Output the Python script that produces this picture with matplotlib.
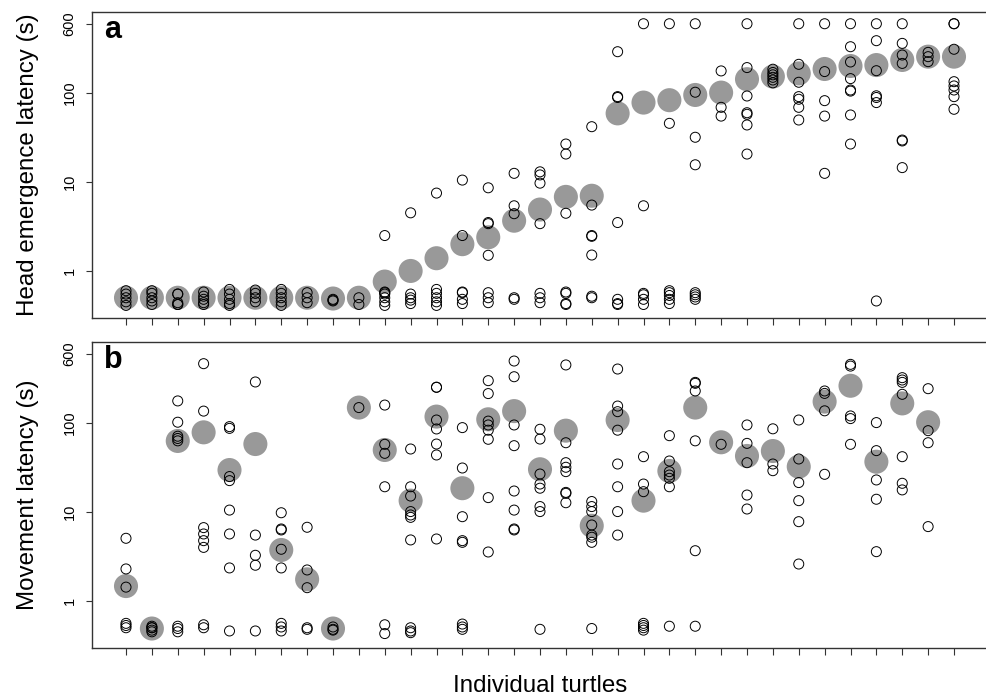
import matplotlib
matplotlib.use("Agg")
import matplotlib.pyplot as plt
from matplotlib.ticker import NullLocator, FixedLocator, FixedFormatter

plt.rcParams['font.family'] = ['Liberation Sans', 'DejaVu Sans']

# ---------------- data ----------------
a_trials = [
    [0.60, 0.55, 0.50, 0.45, 0.41],
    [0.60, 0.56, 0.50, 0.46, 0.42],
    [0.55, 0.55, 0.44, 0.42, 0.42],
    [0.58, 0.52, 0.48, 0.44, 0.42],
    [0.62, 0.55, 0.48, 0.43, 0.41],
    [0.61, 0.56, 0.50, 0.45],
    [0.62, 0.56, 0.50, 0.45, 0.41],
    [0.57, 0.50, 0.44],
    [0.48, 0.47, 0.46],
    [0.50, 0.42],
    [2.5, 0.58, 0.57, 0.55, 0.50, 0.45, 0.41],
    [4.5, 0.55, 0.50, 0.47, 0.43],
    [7.5, 0.62, 0.56, 0.50, 0.45, 0.41],
    [10.5, 2.5, 0.58, 0.57, 0.48, 0.43],
    [8.6, 3.5, 3.4, 1.5, 0.57, 0.50, 0.44],
    [12.5, 5.4, 4.4, 0.50, 0.48],
    [13, 12, 9.7, 3.4, 0.56, 0.50, 0.44],
    [26.7, 20.6, 4.45, 0.58, 0.56, 0.43, 0.42],
    [41.8, 5.5, 2.5, 2.45, 1.51, 0.52, 0.50],
    [291, 91, 89, 3.5, 0.48, 0.43, 0.42],
    [600, 5.4, 0.56, 0.54, 0.48, 0.42],
    [600, 45.6, 0.60, 0.57, 0.53, 0.48, 0.43],
    [600, 102, 31.8, 15.6, 0.57, 0.54, 0.51, 0.48],
    [177, 69, 55],
    [600, 193, 92.5, 60, 57.6, 43.7, 20.6],
    [185, 170, 160, 150, 140, 130],
    [600, 210, 132, 91, 85, 69, 49.7],
    [600, 174, 82, 55, 12.5],
    [600, 331, 223, 145, 108, 105, 56.6, 26.7],
    [600, 387, 178, 93, 89, 78, 0.46],
    [600, 361, 267, 215, 29.6, 28.9, 14.5],
    [286, 256, 225],
    [600, 600, 310, 134, 120, 108, 91, 65.6],
]
a_summary = [0.50, 0.50, 0.50, 0.50, 0.50, 0.50, 0.50, 0.50, 0.49, 0.50,
             0.76, 1.0, 1.39, 2.0, 2.39, 3.67, 4.9, 6.8, 7.0, 59,
             78, 83, 95, 101, 143, 153, 166, 186, 201, 206,
             235, 256, 256]

b_trials = [
    [5.06, 2.29, 1.43, 0.56, 0.53, 0.50],
    [0.52, 0.50, 0.50, 0.47, 0.45],
    [177, 102, 71, 67, 63, 0.52, 0.49, 0.45],
    [464, 136, 6.67, 5.66, 4.76, 4.0, 0.54, 0.50],
    [91, 87, 25, 22.5, 10.5, 5.66, 2.35, 0.46],
    [289, 5.5, 3.26, 2.52, 0.46],
    [9.8, 6.44, 6.28, 3.81, 2.35, 0.56, 0.51, 0.46],
    [6.73, 2.23, 1.41, 0.50, 0.48],
    [0.51, 0.48, 0.47],
    [149],
    [159, 57.6, 45.6, 19.2, 0.54, 0.43],
    [51, 19.2, 15.1, 10.1, 9.25, 8.7, 4.85, 0.50, 0.46, 0.44],
    [252, 252, 108, 85.7, 58, 43.7, 4.97],
    [88.7, 31.2, 8.85, 4.76, 4.56, 0.55, 0.51, 0.48],
    [299, 214, 105, 95, 83, 65.6, 14.5, 3.55],
    [497, 331, 95, 55.6, 17.2, 10.5, 6.44, 6.28],
    [85, 66, 26.7, 20.6, 18.5, 11.5, 10.1, 0.48],
    [449, 60, 35.8, 31.8, 28.4, 16.6, 16.2, 12.7],
    [13.1, 11.5, 10.1, 7.14, 5.5, 5.2, 4.56, 0.49],
    [404, 155, 134, 83, 34.6, 19.2, 10.1, 5.5],
    [41.8, 20.6, 16.9, 0.56, 0.53, 0.50, 0.47],
    [72, 37.4, 28.4, 26, 23.9, 19.2, 0.52],
    [286, 279, 229, 63, 3.67, 0.52],
    [57.6],
    [95, 59, 35.8, 15.5, 10.8],
    [86, 34.6, 29.1],
    [108, 39.4, 21.4, 13.4, 7.78, 2.6],
    [229, 215, 137, 26.5],
    [456, 436, 120, 112, 57.6],
    [101, 48.9, 22.9, 13.9, 3.58],
    [323, 304, 286, 210, 41.8, 21, 17.7],
    [243, 82, 60, 6.85],
]
b_summary = [1.47, 0.49, 62.8, 78.5, 29.6, 58, 3.74, 1.75, 0.49, 149,
             49.7, 13.4, 118, 18.5, 110, 136, 30.2, 82, 7.0, 108,
             13.4, 28.9, 149, 60.7, 42.6, 48.4, 32.3, 174, 262, 36.7,
             166, 102]

n_ticks = 33
y_ticks = [1, 10, 100, 600]
y_ticklabels = ['1', '10', '100', '600']
panel_labels = ['a', 'b']
y_labels = ['Head emergence latency (s)', 'Movement latency (s)']
x_label = 'Individual turtles'

# ---------------- figure ----------------
W, H = 986, 699
fig = plt.figure(figsize=(W / 100, H / 100), dpi=100)

x_left_px = 92
step_px = 25.875
first_tick_px = 126
xmin = 1 - (first_tick_px - x_left_px) / step_px
xmax = 36.0
ax_w = (xmax - xmin) * step_px / W

panels = [(12, 318), (342, 648)]
datasets = [(a_trials, a_summary), (b_trials, b_summary)]

for k, ((top, bot), (trials, summ)) in enumerate(zip(panels, datasets)):
    ax = fig.add_axes([x_left_px / W, 1 - bot / H, ax_w, (bot - top) / H])
    ax.set_yscale('log')
    ax.set_ylim(0.296, 813)
    ax.set_xlim(xmin, xmax)

    xs_s = list(range(1, len(summ) + 1))
    ax.scatter(xs_s, summ, s=300, color='#999999', edgecolors='none', zorder=2)
    xo, yo = [], []
    for i, vals in enumerate(trials):
        for v in vals:
            xo.append(i + 1)
            yo.append(v)
    ax.scatter(xo, yo, s=52, facecolors='none', edgecolors='black',
               linewidths=0.7, zorder=3)

    ax.yaxis.set_major_locator(FixedLocator(y_ticks))
    ax.yaxis.set_major_formatter(FixedFormatter(y_ticklabels))
    ax.yaxis.set_minor_locator(NullLocator())
    ax.xaxis.set_major_locator(FixedLocator(list(range(1, n_ticks + 1))))
    ax.xaxis.set_minor_locator(NullLocator())
    ax.set_xticklabels([])
    ax.tick_params(axis='x', direction='out', length=5, width=0.8, color='#333333')
    ax.tick_params(axis='y', direction='out', length=4, width=0.8, color='#333333',
                   pad=7, labelsize=10.5)
    for lab in ax.get_yticklabels():
        lab.set_rotation(90)
        lab.set_va('center')
        lab.set_ha('right')
    ax.spines['right'].set_visible(False)
    for sp in ['left', 'top', 'bottom']:
        ax.spines[sp].set_linewidth(1.0)
        ax.spines[sp].set_color('#333333')

    fig.text(104 / W, 1 - (top + 26) / H, panel_labels[k], fontsize=22,
             fontweight='bold', ha='left', va='baseline')
    fig.text(28 / W, 1 - ((top + bot) / 2) / H, y_labels[k], fontsize=17.4,
             rotation=90, ha='center', va='center')

fig.text(540 / W, 1 - 686 / H, x_label, fontsize=17.4, ha='center', va='center')

fig.savefig('out.png', dpi=100)
